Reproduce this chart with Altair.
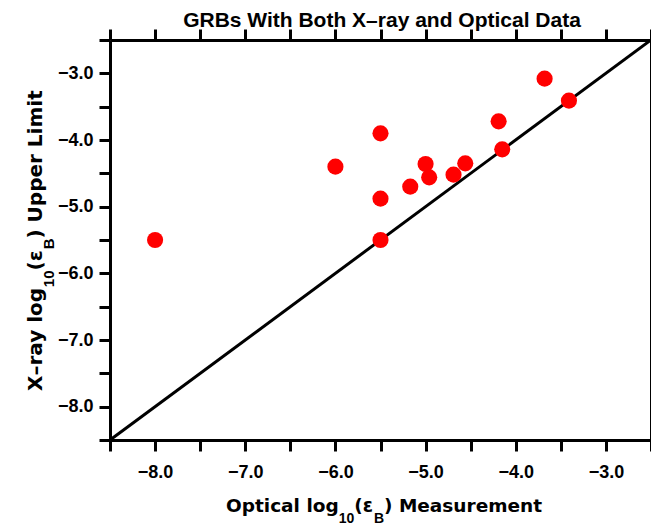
import altair as alt
import pandas as pd

# ---- data ----
optical_logeb = [-8.0, -6.0, -5.5, -5.5, -5.5, -5.17, -5.0, -4.96, -4.69, -4.56, -4.19, -4.15, -3.68, -3.41]
xray_logeb_ul = [-5.5, -4.40, -3.90, -4.88, -5.5, -4.70, -4.36, -4.56, -4.52, -4.35, -3.72, -4.14, -3.08, -3.41]
diag_vals = [-8.5, -2.5]
tick_values = [-8.5, -8.0, -7.5, -7.0, -6.5, -6.0, -5.5, -5.0, -4.5, -4.0, -3.5, -3.0, -2.5]

pts = pd.DataFrame({"opt": optical_logeb, "xr": xray_logeb_ul})
diag = pd.DataFrame({"a": diag_vals, "b": diag_vals})

W, H = 541, 400
xs = alt.Scale(domain=[-8.5, -2.5], nice=False, zero=False)
ys = alt.Scale(domain=[-8.5, -2.5], nice=False, zero=False)

lab_expr = "datum.value % 1 == 0 ? format(datum.value, '.1f') : ''"
common = dict(
    values=tick_values, title=None, grid=False,
    domainColor="black", domainWidth=3,
    tickColor="black", tickWidth=3, tickSize=11,
    labelFont="Liberation Sans", labelFontWeight="bold", labelFontSize=18,
    labelColor="black", labelOverlap=False, labelBound=False, labelFlush=False,
)
ax_bottom = alt.Axis(orient="bottom", labelExpr=lab_expr, labelPadding=12, **common)
ax_left = alt.Axis(orient="left", labelExpr=lab_expr, labelPadding=6, **common)
ax_top = alt.Axis(orient="top", labels=False, **common)
ax_right = alt.Axis(orient="right", labels=False, **common)

line = alt.Chart(diag).mark_line(color="black", strokeWidth=3).encode(
    x=alt.X("a:Q", scale=xs, axis=ax_top),
    y=alt.Y("b:Q", scale=ys, axis=ax_right),
)
points = alt.Chart(pts).mark_circle(size=260, color="#ff0000", opacity=1).encode(
    x=alt.X("opt:Q", scale=xs, axis=ax_bottom),
    y=alt.Y("xr:Q", scale=ys, axis=ax_left),
)

one = alt.Data(values=[{}])


def txt(s, x, y, font="DejaVu Sans", size=18.5, angle=0, align="left"):
    kw = dict(text=s, font=font, fontSize=size, fontWeight="bold", align=align,
              baseline="alphabetic", color="black")
    if angle:
        kw["angle"] = angle
    return alt.Chart(one).mark_text(**kw).encode(x=alt.value(x), y=alt.value(y))


SUBF = "Liberation Sans"
layers = [
    txt("GRBs With Both X\u2013ray and Optical Data", 272, -13, font="Liberation Sans", size=21, align="center"),
    # x title
    txt("Optical log", 116, 472),
    txt("10", 228.7, 483, font=SUBF, size=14),
    txt("(\u03b5", 244.3, 472),
    txt("B", 263.9, 483, font=SUBF, size=14),
    txt(")", 274, 472),
    txt("Measurement", 288.9, 472),
    # y title (rotated)
    txt("X\u2013ray log", -68.3, 351, size=20, angle=270),
    txt("10", -56.3, 247.2, font=SUBF, size=15, angle=270),
    txt("(\u03b5", -68.3, 230.5, size=20, angle=270),
    txt("B", -56.3, 209.3, font=SUBF, size=15, angle=270),
    txt(")", -68.3, 198.5, size=20, angle=270),
    txt("Upper Limit", -68.3, 182.4, size=20, angle=270),
]

chart = alt.layer(line, points, *layers).resolve_axis(
    x="independent", y="independent"
).properties(
    width=W, height=H,
    autosize=alt.AutoSizeParams(type="none"),
    padding={"left": 102, "top": 32, "right": 0, "bottom": 85},
    background="white",
).configure_view(stroke=None)

chart.save("out.html", embed_options={"renderer": "svg", "actions": False})
